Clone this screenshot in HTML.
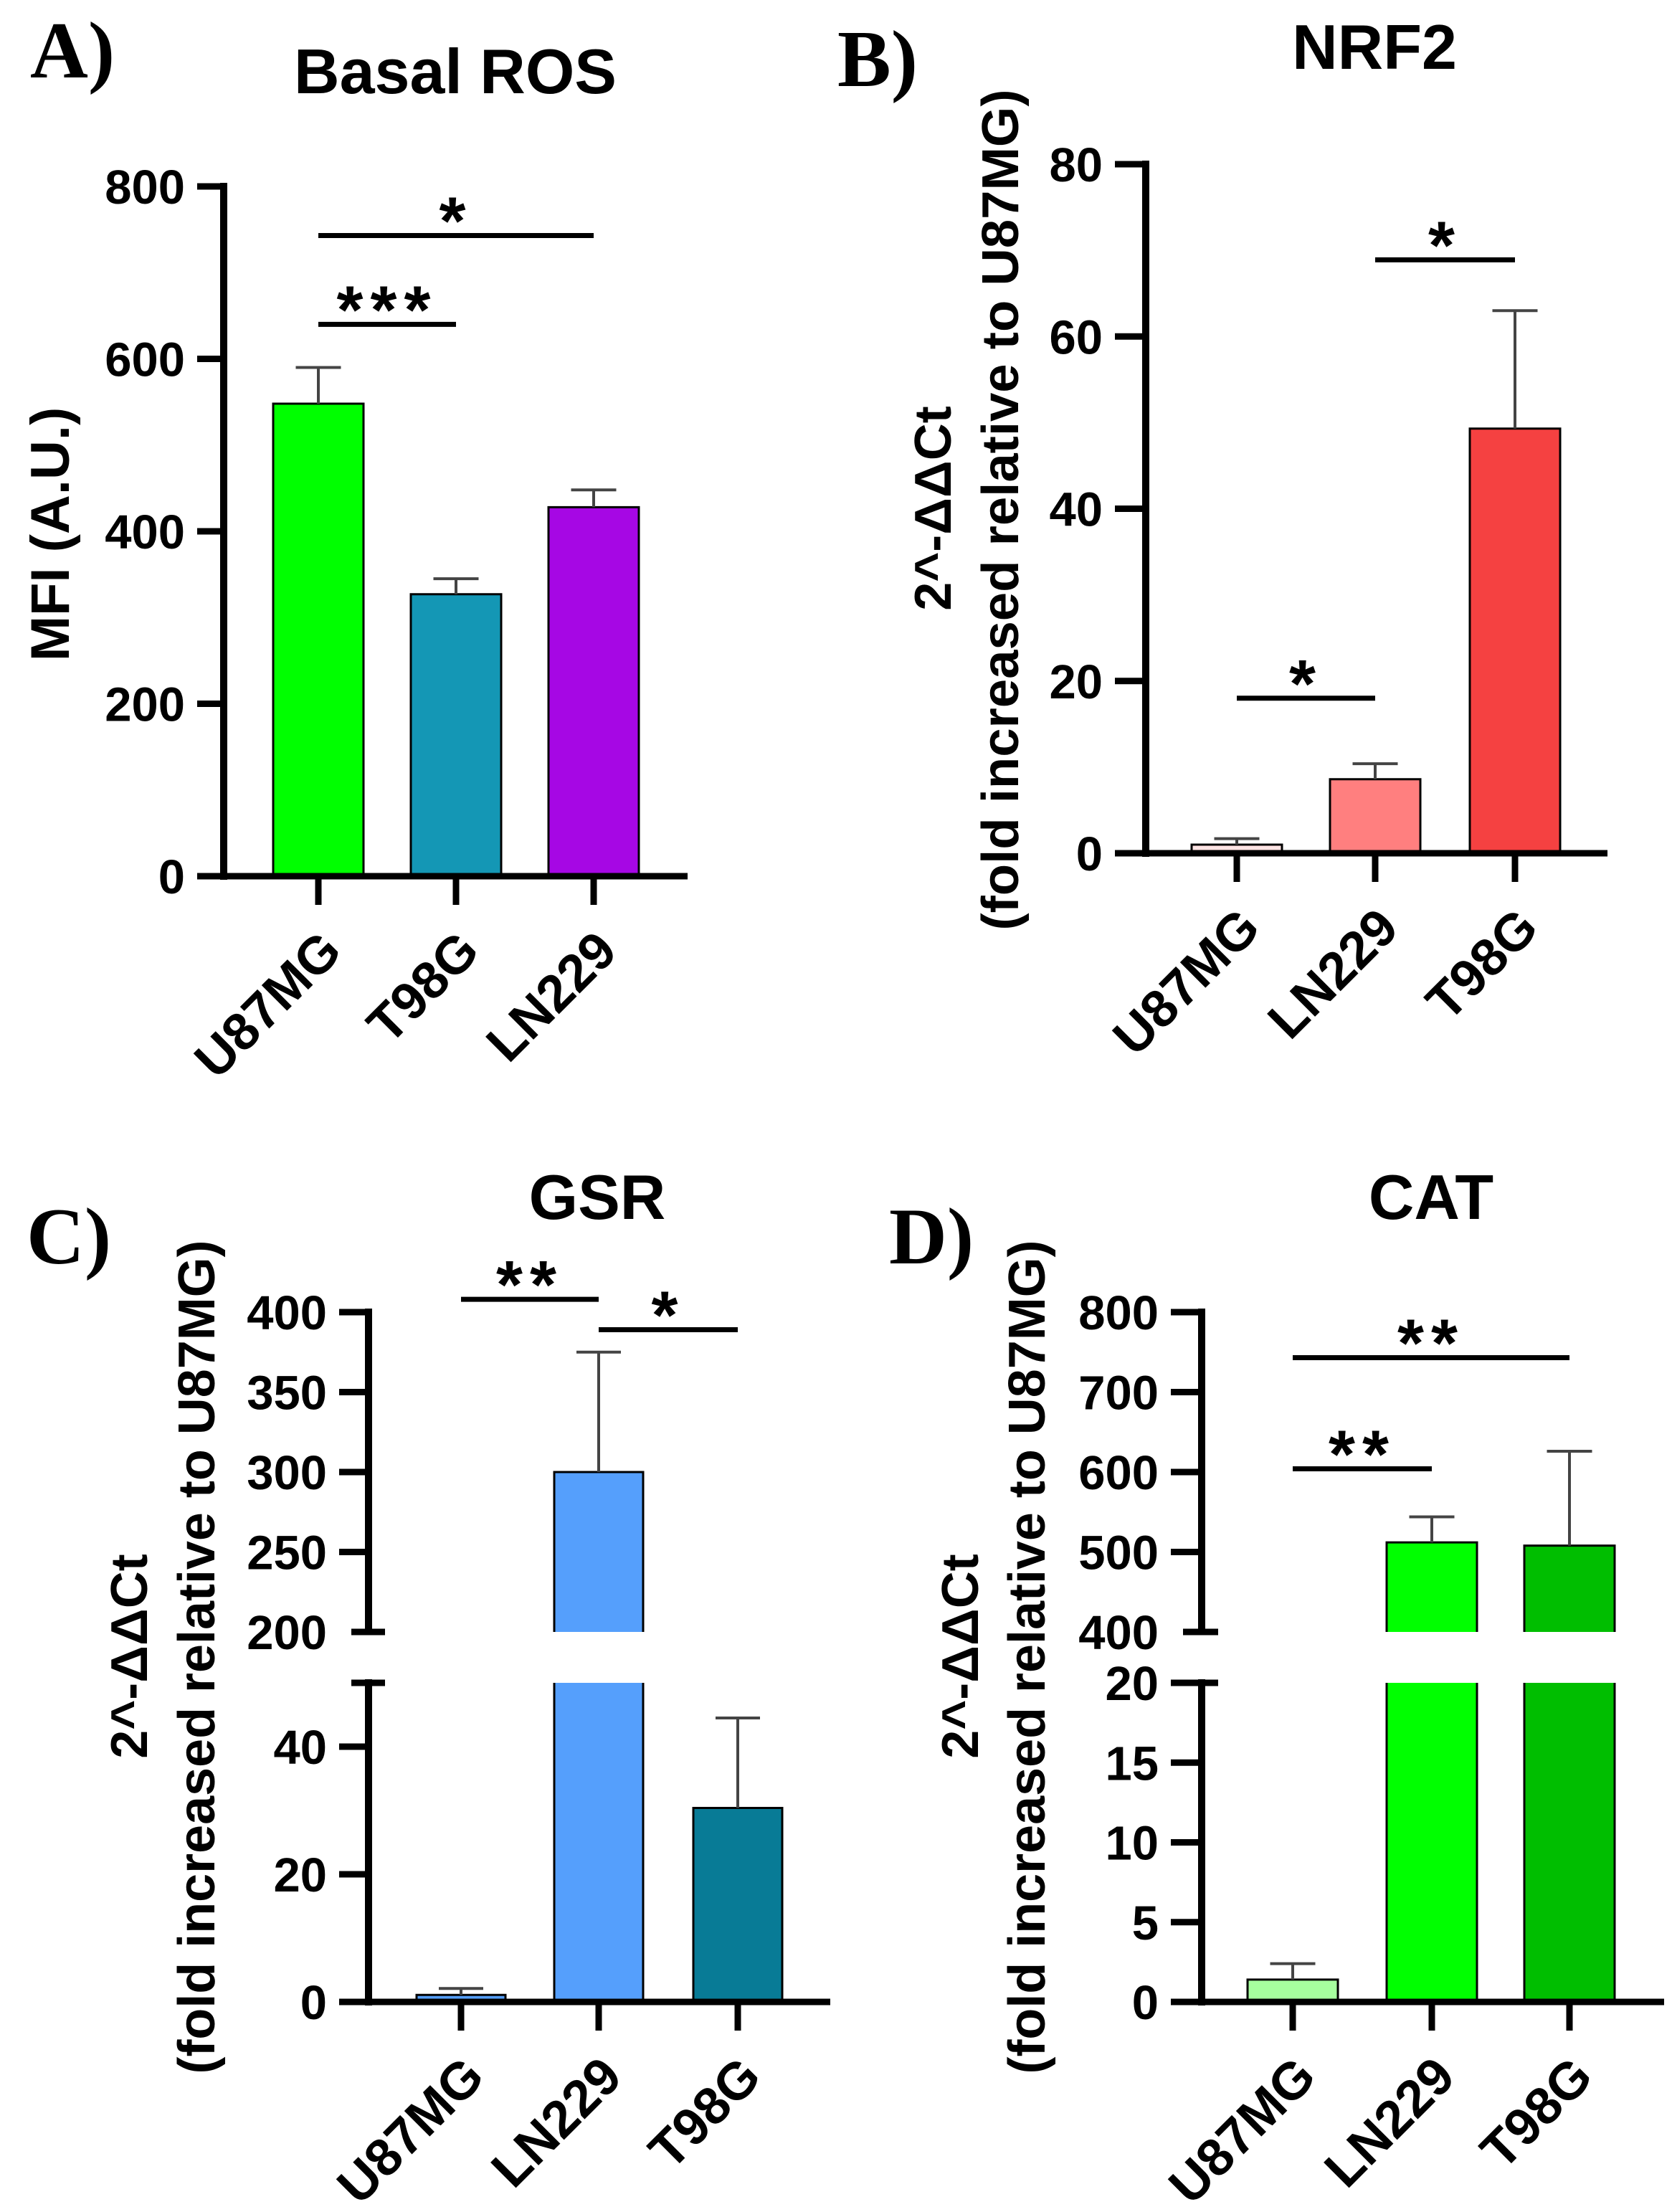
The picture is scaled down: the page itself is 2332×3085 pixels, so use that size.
<!DOCTYPE html>
<html><head><meta charset="utf-8">
<style>
html,body{margin:0;padding:0;background:#fff;}
svg{display:block;}
text{font-family:"Liberation Sans",Arial,sans-serif;font-weight:bold;fill:#000;}
.panel-letter{font-family:"Liberation Serif","Times New Roman",serif;font-weight:bold;}
</style></head>
<body>
<svg id="fig" xmlns="http://www.w3.org/2000/svg" width="2332" height="3085" viewBox="0 0 2332 3085"></svg>
<script>
// ---- Data ----
const catsA = ['U87MG','T98G','LN229'];
const valsA = [548, 327, 428];
const errA  = [590, 345, 448];
const ticksA = [0, 200, 400, 600, 800];

const catsB = ['U87MG','LN229','T98G'];
const valsB = [1.0, 8.6, 49.3];
const errB  = [1.7, 10.4, 63];
const ticksB = [0, 20, 40, 60, 80];

const catsC = ['U87MG','LN229','T98G'];
const valsC = [1.1, 300, 30.4];
const errC  = [2.1, 375, 44.5];
const ticksCLow = [0, 20, 40];
const ticksCHigh = [200, 250, 300, 350, 400];

const catsD = ['U87MG','LN229','T98G'];
const valsD = [1.4, 512, 508];
const errD  = [2.4, 544, 626];
const ticksDLow = [0, 5, 10, 15, 20];
const ticksDHigh = [400, 500, 600, 700, 800];

const sigA = [[0,2,743,'*'],[0,1,640,'***']];
const sigB = [[1,2,68.9,'*'],[0,1,18,'*']];
const sigC = [[0,1,408,'**'],[1,2,389,'*']];
const sigD = [[0,2,743,'**'],[0,1,604,'**']];

// ---- Drawing ----
const NS = 'http://www.w3.org/2000/svg';
const svg = document.getElementById('fig');
function mk(tag, attrs, parent){
  const e = document.createElementNS(NS, tag);
  for (const k in attrs) e.setAttribute(k, attrs[k]);
  (parent||svg).appendChild(e);
  return e;
}

function drawPanel(p){
  const g = mk('g', {});
  
  
  function segOf(v){ for (const s of p.segs){ if (v <= s.hi + 1e-9) return s; } return p.segs[p.segs.length-1]; }
  function yOf(v){ const s = segOf(v); return s.ybot - (v - s.lo)/(s.hi - s.lo)*(s.ybot - s.ytop); }

  p.cats.forEach((c, i) => {
    const v = p.vals[i], cx = p.centers[i], w = p.barW;
    p.segs.forEach((s, si) => {
      if (v <= s.lo) return;
      const top = Math.min(v, s.hi);
      const yb = s.ybot, yt = s.ybot - (top - s.lo)/(s.hi - s.lo)*(s.ybot - s.ytop);
      const r = mk('rect', {x: cx - w/2, y: yt, width: w, height: yb - yt, fill: p.colors[i]}, g);
      
      
      mk('line', {x1: cx-w/2, y1: yb, x2: cx-w/2, y2: yt, stroke:'#000','stroke-width':3}, g);
      mk('line', {x1: cx+w/2, y1: yb, x2: cx+w/2, y2: yt, stroke:'#000','stroke-width':3}, g);
      if (v <= s.hi) mk('line', {x1: cx-w/2-1.5, y1: yt, x2: cx+w/2+1.5, y2: yt, stroke:'#000','stroke-width':3}, g);
    });
    const yv = yOf(v), ye = yOf(p.errs[i]);
    const eb = mk('line', {x1: cx, y1: yv, x2: cx, y2: ye, stroke:'#444','stroke-width':4}, g);
    
    
    mk('line', {x1: cx - w/4, y1: ye, x2: cx + w/4, y2: ye, stroke:'#444','stroke-width':4}, g);
    mk('line', {x1: cx, y1: p.segs[0].ybot, x2: cx, y2: p.segs[0].ybot + 40, stroke:'#000','stroke-width':9}, g);
    const lx = cx + 36, ly = p.segs[0].ybot + 108;
    const t = mk('text', {x: lx, y: ly, 'font-size': 73, 'text-anchor':'end', transform:`rotate(-45 ${lx} ${ly})`}, g);
    t.textContent = c;
    
    
  });

  p.segs.forEach((s, si) => {
    const ax = mk('line', {x1: p.axisX, y1: s.ybot + (si===0?5:0), x2: p.axisX, y2: s.ytop - 5, stroke:'#000','stroke-width':10}, g);
    
    
  });
  if (p.segs.length > 1){
    const yA = p.segs[0].ytop, yB = p.segs[1].ybot;
    mk('line', {x1: p.xLeft + 17, y1: yA, x2: p.axisX + 23, y2: yA, stroke:'#000','stroke-width':9}, g);
    mk('line', {x1: p.xLeft + 17, y1: yB, x2: p.axisX + 23, y2: yB, stroke:'#000','stroke-width':9}, g);
  }
  const xa = mk('line', {x1: p.xLeft, y1: p.segs[0].ybot, x2: p.xRight, y2: p.segs[0].ybot, stroke:'#000','stroke-width':9}, g);
  
  

  p.ticks.forEach(tv => {
    const y = yOf(tv);
    const isBreak = p.segs.length > 1 && (tv === p.segs[1].lo);
    if (!isBreak) mk('line', {x1: p.xLeft, y1: y, x2: p.axisX, y2: y, stroke:'#000','stroke-width':9}, g);
    const tl = mk('text', {x: p.xLeft - 17, y: y + 24, 'font-size': 67, 'text-anchor':'end'}, g);
    tl.textContent = tv;
    
    
  });

  p.sig.forEach(s => {
    const y = yOf(s[2]);
    const x1 = p.centers[s[0]], x2 = p.centers[s[1]];
    const ln = mk('line', {x1: x1, y1: y, x2: x2, y2: y, stroke:'#000','stroke-width':7}, g);
    
    
    const st = mk('text', {x: (x1+x2)/2, y: y + 12, 'font-size': 95, 'text-anchor':'middle', 'letter-spacing': 10}, g);
    st.textContent = s[3];
    
    
  });

  const tt = mk('text', {x: p.titleX, y: p.titleY, 'font-size': 88, 'text-anchor':'middle'}, g);
  tt.textContent = p.title;
  
  
  const pl = mk('text', {x: p.letterX, y: p.letterY, 'font-size': 112, class:'panel-letter'}, g);
  pl.textContent = p.letter;
  
  
  p.ytitles.forEach(yt => {
    const yy = mk('text', {x: yt.x, y: yt.y, 'font-size': yt.fs, 'text-anchor':'middle', transform:`rotate(-90 ${yt.x} ${yt.y})`}, g);
    if (yt.len) { yy.setAttribute('textLength', yt.len); yy.setAttribute('lengthAdjust','spacingAndGlyphs'); }
    yy.textContent = yt.t;
    
    
  });
}

const FOLD = '(fold increased relative to U87MG)';
const DDCT = '2^-\u0394\u0394Ct';

drawPanel({name:'panel-a-basal-ros', cats:catsA, vals:valsA, errs:errA, ticks:ticksA, sig:sigA,
  colors:['#00ff00','#1497b5','#a607e4'],
  segs:[{lo:0,hi:800,ybot:1222,ytop:260}], axisX:312, xLeft:275, xRight:959,
  centers:[444,636,828], barW:126, title:'Basal ROS', titleX:635, titleY:130,
  letter:'A)', letterX:42, letterY:108,
  ytitles:[{t:'MFI (A.U.)', x:96, y:745, fs:76}]});

drawPanel({name:'panel-b-nrf2', cats:catsB, vals:valsB, errs:errB, ticks:ticksB, sig:sigB,
  colors:['#ffe4e4','#ff7f7f','#f54141'],
  segs:[{lo:0,hi:80,ybot:1190,ytop:229}], axisX:1598, xLeft:1555, xRight:2242,
  centers:[1725,1918,2113], barW:126, title:'NRF2', titleX:1917, titleY:96,
  letter:'B)', letterX:1168, letterY:120,
  ytitles:[{t:DDCT, x:1326, y:709, fs:72},{t:FOLD, x:1420, y:711, fs:72, len:1173}]});

drawPanel({name:'panel-c-gsr', cats:catsC, vals:valsC, errs:errC, ticks:ticksCLow.concat(ticksCHigh), sig:sigC,
  colors:['#559ffc','#559ffc','#087b96'],
  segs:[{lo:0,hi:50,ybot:2792,ytop:2347},{lo:200,hi:400,ybot:2276,ytop:1830}], axisX:514, xLeft:473, xRight:1158,
  centers:[643,835,1029], barW:124, title:'GSR', titleX:833, titleY:1700,
  letter:'C)', letterX:37, letterY:1762,
  ytitles:[{t:DDCT, x:205, y:2310, fs:72},{t:FOLD, x:299, y:2311, fs:72, len:1163}]});

drawPanel({name:'panel-d-cat', cats:catsD, vals:valsD, errs:errD, ticks:ticksDLow.concat(ticksDHigh), sig:sigD,
  colors:['#a6ff9e','#00ff00','#00be00'],
  segs:[{lo:0,hi:20,ybot:2792,ytop:2347},{lo:400,hi:800,ybot:2276,ytop:1830}], axisX:1676, xLeft:1633, xRight:2321,
  centers:[1803,1997,2189], barW:126, title:'CAT', titleX:1996, titleY:1700,
  letter:'D)', letterX:1240, letterY:1762,
  ytitles:[{t:DDCT, x:1364, y:2310, fs:72},{t:FOLD, x:1457, y:2311, fs:72, len:1163}]});
</script>
</body></html>
